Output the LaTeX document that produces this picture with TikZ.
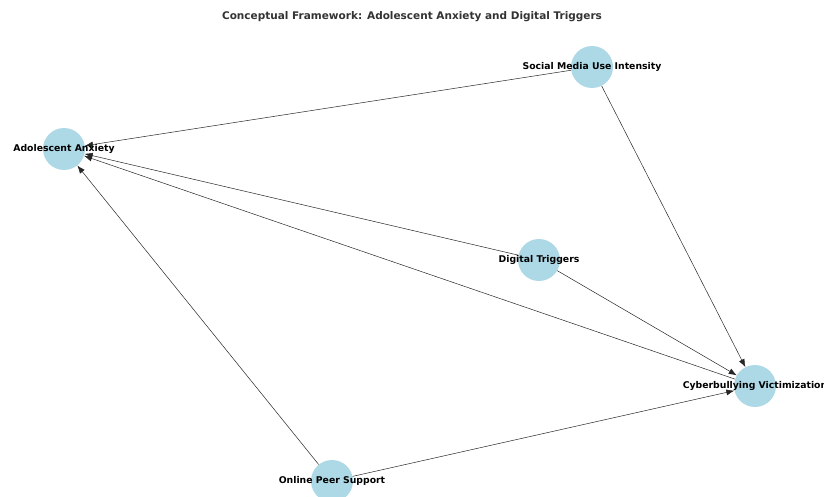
\documentclass[tikz,border=0pt]{standalone}
\usepackage{fontspec}
\setmainfont{DejaVu Sans}
\usetikzlibrary{arrows.meta}

\definecolor{lightblue}{RGB}{173,216,230}
\tikzset{
  concept/.style={circle, fill=lightblue, minimum size=42pt, inner sep=0pt},
  conceptlabel/.style={font=\bfseries\fontsize{9.3}{10}\selectfont, text=black, inner sep=0pt},
  link/.style={-{Latex[length=8pt, width=6pt]}, line width=0.5pt, black!85},
}

\begin{document}
\begin{tikzpicture}[x=1pt, y=-1pt]%
  \useasboundingbox (0, 0) rectangle (824, 497);
  \node[font=\bfseries\fontsize{10.5}{12}\selectfont, text=black!80] (title) at (412, 17)
    {Conceptual Framework: Adolescent Anxiety and Digital Triggers};
  \node[concept] (media) at (592, 67) {};
  \node[concept] (anxiety) at (64, 149) {};
  \node[concept] (triggers) at (539, 260) {};
  \node[concept] (bullying) at (755, 386) {};
  \node[concept] (support) at (332, 481) {};
  \foreach \from/\to in {media/anxiety, media/bullying, triggers/anxiety, triggers/bullying,
    bullying/anxiety, support/anxiety, support/bullying} {
    \draw[link] (\from) -- (\to);
  }
  \node[conceptlabel] (medialabel) at (media.center) {Social Media Use Intensity};
  \node[conceptlabel] (anxietylabel) at (anxiety.center) {Adolescent Anxiety};
  \node[conceptlabel] (triggerslabel) at (triggers.center) {Digital Triggers};
  \node[conceptlabel] (bullyinglabel) at (bullying.center) {Cyberbullying Victimization};
  \node[conceptlabel] (supportlabel) at (support.center) {Online Peer Support};
\end{tikzpicture}
\end{document}
